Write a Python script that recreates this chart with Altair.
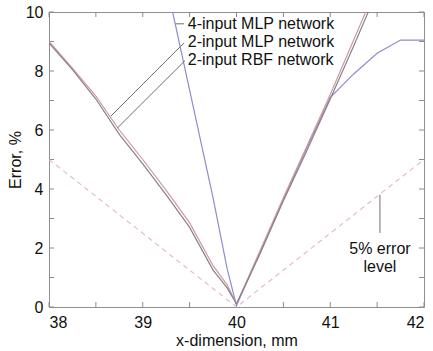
import altair as alt
import pandas as pd

# ---- data ----
x_two = [38, 38.25, 38.5, 38.75, 39, 39.25, 39.5, 39.75, 39.9, 40, 40.25, 40.5, 40.75, 41, 41.25, 41.5]
mlp2 = [9.0, 8.1, 7.15, 6.0, 5.0, 3.95, 2.85, 1.4, 0.75, 0.1, 1.9, 3.7, 5.45, 7.2, 9.05, 10.9]
rbf2 = [8.95, 8.05, 7.05, 5.85, 4.85, 3.8, 2.7, 1.25, 0.65, 0.1, 1.8, 3.6, 5.3, 7.05, 8.85, 10.7]
x_four = [39.25, 39.5, 39.75, 39.9, 40, 40.25, 40.5, 40.75, 41, 41.25, 41.5, 41.75, 42]
mlp4 = [11.0, 7.35, 3.7, 1.3, 0.05, 1.85, 3.65, 5.4, 7.1, 7.9, 8.6, 9.05, 9.05]
x_level = [38, 40, 42]
level = [5, 0, 5]

series_names = ["4-input MLP network", "2-input MLP network", "2-input RBF network"]
series_colors = ["#8c8cd2", "#cf9a9a", "#8a7f8e"]

label_x = [39.48, 39.48, 39.48]
label_y = [9.6, 8.99, 8.38]

# pointer segments (x, y) -> (x2, y2)
ptr_x = [39.35, 38.66, 38.73, 41.53]
ptr_y = [9.6, 6.47, 6.07, 2.51]
ptr_x2 = [39.44, 39.44, 39.45, 41.53]
ptr_y2 = [9.6, 8.95, 8.35, 3.80]

note_lines = ["5% error", "level"]
note_x = [41.53, 41.53]
note_y = [1.97, 1.36]

x_ticks = [38, 38.5, 39, 39.5, 40, 40.5, 41, 41.5, 42]
y_ticks = list(range(0, 11))

# ---- tables ----
rows = []
for x, v in zip(x_four, mlp4):
    rows.append({"x": x, "y": v, "s": series_names[0]})
for x, v in zip(x_two, mlp2):
    rows.append({"x": x, "y": v, "s": series_names[1]})
for x, v in zip(x_two, rbf2):
    rows.append({"x": x, "y": v, "s": series_names[2]})
lines_df = pd.DataFrame(rows)
level_df = pd.DataFrame({"x": x_level, "y": level})
labels_df = pd.DataFrame({"x": label_x, "y": label_y, "t": series_names})
ptr_df = pd.DataFrame({"x": ptr_x, "y": ptr_y, "x2": ptr_x2, "y2": ptr_y2})
note_df = pd.DataFrame({"x": note_x, "y": note_y, "t": note_lines})
xt_df = pd.DataFrame({"v": x_ticks, "lo": [0] * len(x_ticks), "hi": [10] * len(x_ticks)})
yt_df = pd.DataFrame({"v": y_ticks, "lo": [38] * len(y_ticks), "hi": [42] * len(y_ticks)})

FONT = "Liberation Sans"
TXT = "#111111"
TICK = "#8a8a8a"
xs = alt.Scale(domain=[38, 42], nice=False, zero=False)
ys = alt.Scale(domain=[0, 10], nice=False, zero=False)

axis_common = dict(domain=False, ticks=False, format="d",
                   labelFont=FONT, labelFontSize=16, labelColor=TXT,
                   titleFont=FONT, titleFontSize=16, titleColor=TXT,
                   titleFontWeight="normal", grid=False)

x_axis = alt.Axis(values=x_ticks, labelExpr="datum.value % 1 == 0 ? datum.label : ''",
                  title="x-dimension, mm", labelPadding=7, titlePadding=2, **axis_common)
y_axis = alt.Axis(values=y_ticks, labelExpr="datum.value % 2 == 0 ? datum.label : ''",
                  title="Error, %", labelPadding=6, titlePadding=2, **axis_common)

dashed = alt.Chart(level_df).mark_line(strokeDash=[5, 4], color="#e6bccb", strokeWidth=1.2).encode(
    x=alt.X("x:Q", scale=xs, axis=x_axis),
    y=alt.Y("y:Q", scale=ys, axis=y_axis),
)

lines = alt.Chart(lines_df).mark_line(clip=True, strokeWidth=1.2).encode(
    x=alt.X("x:Q", scale=xs),
    y=alt.Y("y:Q", scale=ys),
    color=alt.Color("s:N", scale=alt.Scale(domain=series_names, range=series_colors), legend=None),
    detail="s:N",
)

pointers = alt.Chart(ptr_df).mark_rule(color="#6f6f6f", strokeWidth=1).encode(
    x=alt.X("x:Q", scale=xs), y=alt.Y("y:Q", scale=ys),
    x2="x2:Q", y2="y2:Q",
)

labels = alt.Chart(labels_df).mark_text(align="left", baseline="middle", font=FONT,
                                        fontSize=16, color=TXT).encode(
    x=alt.X("x:Q", scale=xs), y=alt.Y("y:Q", scale=ys), text="t:N")

notes = alt.Chart(note_df).mark_text(align="center", baseline="middle", font=FONT,
                                     fontSize=16, color=TXT).encode(
    x=alt.X("x:Q", scale=xs), y=alt.Y("y:Q", scale=ys), text="t:N")

# inward tick marks on all four sides (box style): rules spanning the frame,
# with only the first and last few pixels painted
tick_len = 5
x_tick_rules = alt.Chart(xt_df).mark_rule(color=TICK, strokeWidth=1,
                                           strokeDash=[tick_len, 295 - 2 * tick_len, tick_len, 0]).encode(
    x=alt.X("v:Q", scale=xs), y=alt.Y("lo:Q", scale=ys), y2="hi:Q")
y_tick_rules = alt.Chart(yt_df).mark_rule(color=TICK, strokeWidth=1,
                                           strokeDash=[tick_len, 375 - 2 * tick_len, tick_len, 0]).encode(
    y=alt.Y("v:Q", scale=ys), x=alt.X("lo:Q", scale=xs), x2="hi:Q")

chart = alt.layer(x_tick_rules, y_tick_rules, dashed, lines, pointers, labels, notes).properties(
    width=375, height=295,
    autosize=alt.AutoSizeParams(type="none"),
    padding={"left": 49, "top": 12, "right": 9, "bottom": 44},
    background="white",
).configure_view(stroke="#8f8f8f", strokeWidth=1)

chart.save("out.html", embed_options={"renderer": "svg", "actions": False})
